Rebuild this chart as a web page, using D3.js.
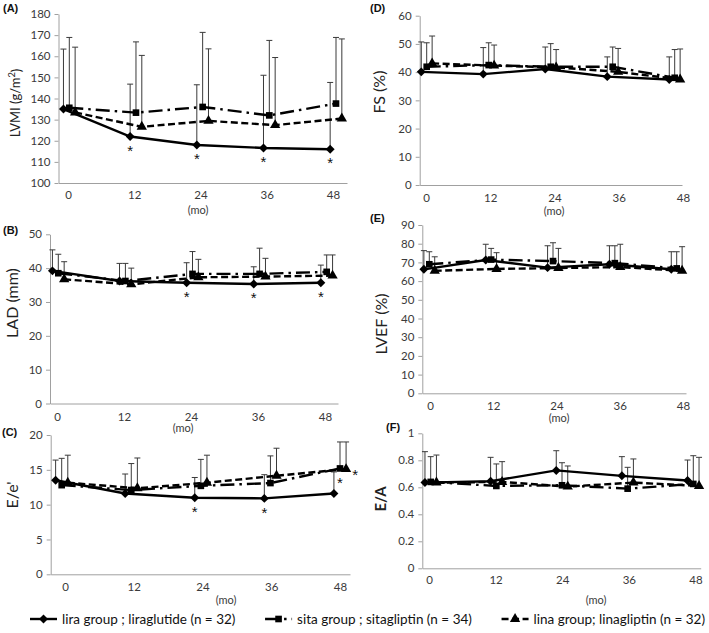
<!DOCTYPE html>
<html><head><meta charset="utf-8">
<script src="https://cdn.jsdelivr.net/npm/d3@7"></script>
<style>
body{margin:0;background:#fff;}
svg{display:block;}
</style></head><body>
<svg id="chart" width="709" height="633"></svg>
<script>
// ---------------- DATA ----------------
const months = [0, 12, 24, 36, 48];
const seriesNames = ["lira group ; liraglutide (n = 32)", "sita group ; sitagliptin (n = 34)", "lina group; linagliptin (n = 32)"];

// (A) LVMI
const lvmiLira = [135, 122, 118, 116.6, 116];
const lvmiLiraSD = [28.4, 24.8, 28.5, 34.4, 31.6];
const lvmiSita = [135.6, 133.3, 136, 132, 137.6];
const lvmiSitaSD = [33.3, 33.5, 35.3, 35.5, 31.3];
const lvmiLina = [133.4, 126.6, 129.4, 127.4, 130.5];
const lvmiLinaSD = [30.9, 33.8, 34.1, 32, 37.7];
const lvmiTicks = [100, 110, 120, 130, 140, 150, 160, 170, 180];

// (B) LAD
const ladLira = [39.2, 36.2, 35.7, 35.3, 35.7];
const ladLiraSD = [6.2, 5.2, 5.9, 5.1, 5.2];
const ladSita = [38.5, 36.2, 38.3, 38.3, 38.9];
const ladSitaSD = [5.6, 5.2, 6.6, 7.6, 5.0];
const ladLina = [36.7, 35.2, 37.3, 37.5, 37.8];
const ladLinaSD = [5.2, 4.8, 5.3, 5.4, 6.1];
const ladTicks = [0, 10, 20, 30, 40, 50];

// (C) E/e'
const eeLira = [13.5, 11.6, 11.0, 10.9, 11.6];
const eeLiraSD = [2.9, 2.8, 2.9, 3.4, 3.1];
const eeSita = [12.8, 12.1, 12.7, 13.1, 15.2];
const eeSitaSD = [3.85, 3.8, 3.8, 3.9, 3.8];
const eeLina = [13.15, 12.35, 13.15, 14.15, 15.1];
const eeLinaSD = [3.95, 4.35, 3.95, 3.95, 3.9];
const eeTicks = [0, 5, 10, 15, 20];

// (D) FS
const fsLira = [40.1, 39.3, 41.1, 38.4, 37.4];
const fsLiraSD = [10.6, 9.4, 7.8, 7.0, 8.0];
const fsSita = [41.9, 42.5, 41.9, 41.9, 38.0];
const fsSitaSD = [8.5, 7.9, 8.2, 7.0, 10.0];
const fsLina = [43.1, 42.3, 41.7, 40.1, 37.4];
const fsLinaSD = [9.7, 7.3, 6.3, 8.3, 10.8];
const fsTicks = [0, 10, 20, 30, 40, 50, 60];

// (E) LVEF
const efLira = [66.3, 71.3, 67.2, 69.0, 66.3];
const efLiraSD = [10, 8.4, 11.7, 9.9, 9.4];
const efSita = [69.0, 71.5, 70.7, 69.6, 66.8];
const efSitaSD = [6.7, 6.0, 9.8, 9.3, 8.9];
const efLina = [65.5, 66.5, 67.0, 67.5, 65.5];
const efLinaSD = [7.5, 8.7, 10.5, 12.2, 12.9];
const efTicks = [0, 10, 20, 30, 40, 50, 60, 70, 80, 90];

// (F) E/A
const eaLira = [0.635, 0.645, 0.725, 0.685, 0.65];
const eaLiraSD = [0.229, 0.177, 0.146, 0.142, 0.152];
const eaSita = [0.64, 0.61, 0.615, 0.59, 0.625];
const eaSitaSD = [0.187, 0.163, 0.167, 0.158, 0.209];
const eaLina = [0.635, 0.64, 0.605, 0.635, 0.61];
const eaLinaSD = [0.204, 0.15, 0.153, 0.175, 0.212];
const eaTicks = [0, 0.2, 0.4, 0.6, 0.8, 1];

// significance marks: [series index, month, placement]
const lvmiSig = [[0, 12, "below"], [0, 24, "below"], [0, 36, "below"], [0, 48, "below"]];
const ladSig = [[0, 24, "below"], [0, 36, "below"], [0, 48, "below"]];
const eeSig = [[0, 24, "below"], [0, 36, "below"], [1, 48, "below"], [2, 48, "right"]];

// ---------------- LAYOUT / STYLE ----------------
const FONT = 'Lato, "Open Sans", "Liberation Sans", sans-serif';
const AXIS_COLOR = "#a0a0a0";
const TEXT_COLOR = "#3a3a3a";
const jitter = [-1.05, 0, 1.05];
const seriesStyle = [
  {dash: null, sym: d3.symbolSquare, size: 40, rot: 45},
  {dash: "14,5,2.5,5", sym: d3.symbolSquare, size: 44, rot: 0},
  {dash: "7,3.5", sym: d3.symbolTriangle, size: 46, rot: 0}
];

const panels = [
  {label: "(A)", title: "LVMI (g/m²)", series: [[lvmiLira, lvmiLiraSD], [lvmiSita, lvmiSitaSD], [lvmiLina, lvmiLinaSD]],
   ticks: lvmiTicks, sig: lvmiSig,
   axisX: [58.5, 347], yTop: 14, yBot: 183, dataX: [69.3, 336], tickX: [68, 333], tickLabelY: 195,
   mo: [198, 210], titlePos: [15, 103], titleSize: 13, titleBold: false, labelPos: [3, 8]},
  {label: "(B)", title: "LAD (mm)", series: [[ladLira, ladLiraSD], [ladSita, ladSitaSD], [ladLina, ladLinaSD]],
   ticks: ladTicks, sig: ladSig,
   axisX: [50, 338], yTop: 234.3, yBot: 403.5, dataX: [58.3, 326.7], tickX: [57, 325], tickLabelY: 416.5,
   mo: [183, 428], titlePos: [12, 303], titleSize: 16, titleBold: false, labelPos: [3, 230]},
  {label: "(C)", title: "E/e'", series: [[eeLira, eeLiraSD], [eeSita, eeSitaSD], [eeLina, eeLinaSD]],
   ticks: eeTicks, sig: eeSig,
   axisX: [50.7, 350], yTop: 435, yBot: 574.3, dataX: [61.7, 340], tickX: [65, 340], tickLabelY: 587,
   mo: [226, 600], titlePos: [12, 495], titleSize: 16, titleBold: false, labelPos: [2, 432]},
  {label: "(D)", title: "FS (%)", series: [[fsLira, fsLiraSD], [fsSita, fsSitaSD], [fsLina, fsLinaSD]],
   ticks: fsTicks, sig: [],
   axisX: [419.7, 682], yTop: 15.7, yBot: 185, dataX: [426.7, 674.7], tickX: [426, 683], tickLabelY: 198,
   mo: [554, 211.5], titlePos: [379, 92], titleSize: 16, titleBold: false, labelPos: [370, 8]},
  {label: "(E)", title: "LVEF (%)", series: [[efLira, efLiraSD], [efSita, efSitaSD], [efLina, efLinaSD]],
   ticks: efTicks, sig: [],
   axisX: [422.3, 686], yTop: 225, yBot: 393.3, dataX: [429.3, 676.7], tickX: [430, 683], tickLabelY: 405.5,
   mo: [559, 418.3], titlePos: [381, 324], titleSize: 16, titleBold: false, labelPos: [370, 218]},
  {label: "(F)", title: "E/A", series: [[eaLira, eaLiraSD], [eaSita, eaSitaSD], [eaLina, eaLinaSD]],
   ticks: eaTicks, sig: [],
   axisX: [422.3, 700.7], yTop: 433.3, yBot: 568.3, dataX: [430.7, 693.3], tickX: [429, 695.5], tickLabelY: 580,
   mo: [596, 600], titlePos: [381, 499], titleSize: 15, titleBold: true, labelPos: [386, 427]}
];

// ---------------- DRAW ----------------
const svg = d3.select("#chart").style("font-family", FONT);

function drawPanel(p) {
  const g = svg.append("g");
  const yDom = d3.extent(p.ticks);
  const y = d3.scaleLinear().domain(yDom).range([p.yBot, p.yTop]);
  const xData = d3.scaleLinear().domain([0, 48]).range(p.dataX);
  const xTick = d3.scaleLinear().domain([0, 48]).range(p.tickX);
  const xAx = d3.scaleLinear().domain([xTick.invert(p.axisX[0]), xTick.invert(p.axisX[1])]).range(p.axisX);

  // y axis
  const ya = g.append("g").attr("transform", `translate(${p.axisX[0]},0)`)
    .call(d3.axisLeft(y).tickValues(p.ticks).tickSizeInner(4).tickSizeOuter(0).tickPadding(4)
      .tickFormat(d => String(+d.toFixed(1))));
  ya.select(".domain").attr("stroke", AXIS_COLOR);
  ya.selectAll(".tick line").attr("stroke", AXIS_COLOR);
  ya.selectAll(".tick text").attr("fill", TEXT_COLOR).style("font-size", "11.5px").style("font-family", FONT);

  // x axis
  const xa = g.append("g").attr("transform", `translate(0,${p.yBot})`)
    .call(d3.axisBottom(xAx).tickValues(months).tickSize(0).tickFormat(d3.format("d")));
  xa.select(".domain").attr("stroke", AXIS_COLOR);
  xa.selectAll(".tick text").attr("fill", TEXT_COLOR).attr("y", p.tickLabelY - p.yBot).attr("dy", "0.35em")
    .style("font-size", "11.5px").style("font-family", FONT);

  // (mo)
  g.append("text").attr("x", p.mo[0]).attr("y", p.mo[1]).attr("dy", "0.35em").attr("text-anchor", "middle")
    .attr("fill", TEXT_COLOR).style("font-size", "11px").text("(mo)");

  // y title
  const t = g.append("text").attr("transform", `translate(${p.titlePos[0]},${p.titlePos[1]}) rotate(-90)`)
    .attr("text-anchor", "middle").attr("dy", "0.35em").attr("fill", "#222")
    .style("font-size", p.titleSize + "px").style("font-weight", p.titleBold ? "bold" : "normal");
  if (p.title.includes("²")) {
    t.append("tspan").text("LVMI (g/m");
    t.append("tspan").attr("dy", "-0.45em").style("font-size", (p.titleSize * 0.72) + "px").text("2");
    t.append("tspan").attr("dy", "0.45em").text(")");
  } else {
    t.text(p.title);
  }

  // panel label
  g.append("text").attr("x", p.labelPos[0]).attr("y", p.labelPos[1]).attr("dy", "0.35em")
    .style("font-size", "11px").style("font-weight", "bold").style("font-family", "Liberation Sans, Arial, sans-serif")
    .attr("fill", "#111").text(p.label);

  // error bars
  p.series.forEach((s, si) => {
    const [vals, sds] = s;
    const pts = months.map((m, i) => ({t: m + jitter[si], v: vals[i], sd: sds[i]}));
    const eb = g.append("g").attr("stroke", "#3a3a3a").attr("stroke-width", 1);
    pts.forEach(d => {
      const x = xData(d.t);
      eb.append("line").attr("x1", x).attr("x2", x).attr("y1", y(d.v)).attr("y2", y(d.v + d.sd));
      eb.append("line").attr("x1", x - 3).attr("x2", x + 3).attr("y1", y(d.v + d.sd)).attr("y2", y(d.v + d.sd));
    });
  });
  // lines + markers
  p.series.forEach((s, si) => {
    const [vals] = s;
    const st = seriesStyle[si];
    const pts = months.map((m, i) => ({t: m + jitter[si], v: vals[i]}));
    g.append("path").datum(pts)
      .attr("d", d3.line().x(d => xData(d.t)).y(d => y(d.v)))
      .attr("fill", "none").attr("stroke", "#000").attr("stroke-width", 2.4)
      .attr("stroke-dasharray", st.dash);
    g.selectAll(null).data(pts).enter().append("path")
      .attr("d", d3.symbol(st.sym, st.size))
      .attr("transform", d => `translate(${xData(d.t)},${y(d.v)}) rotate(${st.rot})`)
      .attr("fill", "#000");
  });

  // significance asterisks
  p.sig.forEach(([si, m, pos]) => {
    const i = months.indexOf(m);
    const v = p.series[si][0][i];
    const x = xData(m + jitter[si]);
    const yy = y(v);
    g.append("text")
      .attr("x", pos === "right" ? x + 9 : x)
      .attr("y", pos === "right" ? yy + 6 : yy + 14)
      .attr("dy", "0.35em").attr("text-anchor", "middle")
      .attr("fill", "#111").style("font-size", "15px").style("font-family", "Liberation Sans, Arial, sans-serif")
      .text("*");
  });
}
panels.forEach(drawPanel);

// ---------------- LEGEND ----------------
const lg = svg.append("g").style("font-family", FONT);
const legY = 619, symW = 27, symGap = 5, legL = 30, legR = 705;
const texts = seriesNames.map(n => lg.append("text").attr("y", legY).attr("dy", "0.35em")
  .attr("fill", "#111").style("font-size", "13.5px").text(n));
const widths = texts.map(t => t.node().getComputedTextLength());
const totalItems = d3.sum(widths) + 3 * (symW + symGap);
const itemGap = (legR - legL - totalItems) / 2;
let cx = legL;
seriesNames.forEach((n, i) => {
  const st = seriesStyle[i];
  lg.append("line").attr("x1", cx).attr("x2", cx + symW).attr("y1", legY).attr("y2", legY)
    .attr("stroke", "#000").attr("stroke-width", 2.4).attr("stroke-dasharray", st.dash);
  lg.append("path").attr("d", d3.symbol(st.sym, st.size))
    .attr("transform", `translate(${cx + symW / 2},${legY}) rotate(${st.rot})`).attr("fill", "#000");
  texts[i].attr("x", cx + symW + symGap);
  cx += symW + symGap + widths[i] + itemGap;
});
</script>
</body></html>
